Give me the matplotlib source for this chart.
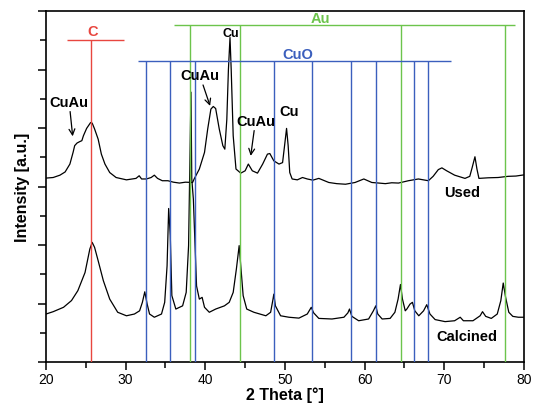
import numpy as np
import matplotlib
matplotlib.use('Agg')
import matplotlib.pyplot as plt
from matplotlib.ticker import MultipleLocator, NullFormatter

plt.rcParams['font.family'] = ['Liberation Sans', 'DejaVu Sans']

# traced patterns (2 theta, intensity in arbitrary units of the panel)
used_x = [20.0, 20.9, 21.75, 22.4, 23.0, 23.4, 23.6, 23.9, 24.25, 24.5, 24.7, 25.1, 25.6, 25.8,
          26.1, 26.55, 26.95, 27.4, 28.0, 28.8, 30.1, 31.3, 31.7, 32.0, 32.6, 33.2, 33.6, 34.0,
          34.6, 35.3, 36.0, 36.75, 37.5, 38.4, 38.6, 39.25, 39.9, 40.3, 40.7, 41.0, 41.3, 41.75,
          42.2, 42.45, 42.7, 42.9, 43.1, 43.25, 43.5, 43.85, 44.45, 45.0, 45.4, 45.9, 46.55,
          47.2, 47.8, 48.1, 48.6, 49.25, 49.7, 49.95, 50.2, 50.4, 50.6, 50.9, 51.55, 52.2, 52.8,
          53.5, 54.25, 55.5, 56.5, 57.6, 58.8, 59.9, 60.9, 61.8, 62.6, 63.4, 64.25, 65.5, 66.75,
          68.0, 68.6, 69.25, 69.7, 70.3, 71.3, 72.6, 73.2, 73.5, 73.85, 74.1, 74.35, 75.5, 76.75,
          78.0, 79.0, 80.0]
used_y = [6.29, 6.31, 6.39, 6.5, 6.77, 7.17, 7.4, 7.49, 7.54, 7.57, 7.74, 7.99, 8.19, 8.17,
          7.97, 7.62, 7.11, 6.77, 6.48, 6.31, 6.23, 6.28, 6.37, 6.26, 6.26, 6.31, 6.39, 6.28,
          6.2, 6.2, 6.15, 6.12, 6.15, 6.14, 6.26, 6.6, 7.17, 7.97, 8.65, 8.74, 8.67, 7.97,
          7.4, 7.28, 8.3, 10.0, 11.1, 10.0, 7.74, 6.6, 6.46, 6.54, 6.77, 6.54, 6.46,
          6.77, 7.11, 7.13, 6.88, 6.77, 6.82, 7.4, 7.99, 7.4, 6.48, 6.26, 6.23, 6.31, 6.26,
          6.22, 6.28, 6.14, 6.1, 6.08, 6.14, 6.26, 6.14, 6.12, 6.1, 6.13, 6.12, 6.2, 6.26,
          6.2, 6.35, 6.58, 6.64, 6.54, 6.39, 6.28, 6.35, 6.65, 7.02, 6.6, 6.28, 6.3, 6.31,
          6.35, 6.36, 6.4]

calc_x = [20.0, 20.9, 22.2, 23.2, 24.0, 24.9, 25.5, 25.8, 26.1, 26.55, 27.2, 28.0, 29.0, 30.1,
          31.1, 31.75, 32.1, 32.4, 32.7, 33.0, 33.6, 34.5, 34.9, 35.2, 35.4, 35.6, 35.8, 36.3,
          37.15, 37.6, 37.9, 38.2, 38.3, 38.5, 38.9, 39.25, 39.6, 39.9, 40.5, 41.3, 42.4, 43.0,
          43.5, 43.9, 44.25, 44.45, 44.75, 45.2, 46.1, 47.6, 48.2, 48.5, 48.6, 48.8, 49.45, 50.5,
          51.75, 52.8, 53.3, 53.6, 54.25, 55.9, 57.4, 57.9, 58.1, 58.4, 59.25, 60.5, 61.1, 61.4,
          61.65, 62.2, 63.2, 63.8, 64.2, 64.5, 64.75, 65.1, 65.3, 65.7, 66.0, 66.3, 66.8, 67.4,
          67.8, 68.2, 68.85, 70.1, 71.3, 72.0, 72.4, 73.6, 74.5, 74.8, 75.2, 75.9, 76.65, 77.1,
          77.4, 77.7, 78.1, 78.6, 79.3, 80.0]
calc_y = [1.64, 1.72, 1.87, 2.1, 2.44, 3.06, 3.86, 4.09, 3.92, 3.46, 2.78, 2.15, 1.7, 1.58,
          1.64, 1.75, 2.04, 2.4, 1.98, 1.64, 1.53, 1.64, 2.04, 3.29, 5.25, 4.32, 2.27, 1.81,
          1.92, 2.38, 3.98, 9.23, 6.26, 5.57, 2.6, 2.15, 2.21, 1.87, 1.7, 1.81, 1.92, 2.04,
          2.38, 3.18, 3.98, 3.29, 2.27, 1.81, 1.7, 1.58, 1.7, 2.15, 2.32, 1.92, 1.58, 1.53,
          1.5, 1.64, 1.87, 1.68, 1.49, 1.47, 1.53, 1.68, 1.81, 1.56, 1.41, 1.47, 1.75, 1.92,
          1.64, 1.47, 1.49, 1.7, 2.15, 2.65, 2.15, 1.75, 1.81, 1.98, 2.04, 1.75, 1.58, 1.75,
          1.96, 1.64, 1.45, 1.38, 1.41, 1.53, 1.41, 1.41, 1.58, 1.72, 1.56, 1.49, 1.64, 2.1,
          2.7, 2.21, 1.7, 1.56, 1.53, 1.53]

# reference reflections
c_pos = [25.7]
au_pos = [38.1, 44.3, 64.6, 77.6]
cuo_pos = [32.5, 35.55, 38.7, 48.6, 53.4, 58.25, 61.4, 66.15, 68.0]

c_col, au_col, cuo_col = '#e8463f', '#6cc44c', '#3b5fbd'

fig = plt.figure(figsize=(5.33, 4.06), dpi=100)
ax = fig.add_axes([0.0863, 0.106, 0.8967, 0.864])

ax.plot(used_x, used_y, color='k', lw=0.9, zorder=2)
ax.plot(calc_x, calc_y, color='k', lw=0.9, zorder=2)

# marker bars
ax.hlines(11.02, 22.67, 29.75, color=c_col, lw=1, zorder=3)
ax.vlines(c_pos, 0, 11.02, color=c_col, lw=1, zorder=3)
ax.text(25.85, 11.33, 'C', color=c_col, fontsize=10.5, fontweight='bold', ha='center', va='center')

ax.hlines(11.52, 36.1, 78.9, color=au_col, lw=1, zorder=3)
ax.vlines(au_pos, 0, 11.52, color=au_col, lw=1, zorder=3)
ax.text(54.5, 11.76, 'Au', color=au_col, fontsize=10.5, fontweight='bold', ha='center', va='center')

ax.hlines(10.3, 31.6, 70.9, color=cuo_col, lw=1, zorder=3)
ax.vlines(cuo_pos, 0, 10.3, color=cuo_col, lw=1, zorder=3)
ax.text(51.6, 10.55, 'CuO', color=cuo_col, fontsize=10.5, fontweight='bold', ha='center', va='center')

# phase annotations
ann_kw = dict(fontsize=10.5, fontweight='bold', ha='center', va='center',
              arrowprops=dict(arrowstyle='->', color='k', lw=0.9, shrinkA=0, shrinkB=0))
ax.annotate('CuAu', xy=(23.35, 7.72), xytext=(22.9, 8.9), **ann_kw)
ax.annotate('CuAu', xy=(40.6, 8.76), xytext=(39.3, 9.81), **ann_kw)
ax.annotate('CuAu', xy=(45.7, 7.05), xytext=(46.3, 8.25), **ann_kw)
ax.text(43.2, 11.25, 'Cu', fontsize=9, fontweight='bold', ha='center', va='center')
ax.text(50.5, 8.58, 'Cu', fontsize=10.5, fontweight='bold', ha='center', va='center')
ax.text(72.2, 5.8, 'Used', fontsize=10.5, fontweight='bold', ha='center', va='center')
ax.text(72.8, 0.9, 'Calcined', fontsize=10.5, fontweight='bold', ha='center', va='center')

ax.set_xlim(20, 80)
ax.set_ylim(0, 12)
ax.xaxis.set_major_locator(MultipleLocator(10))
ax.xaxis.set_minor_locator(MultipleLocator(5))
ax.yaxis.set_major_locator(MultipleLocator(2))
ax.yaxis.set_minor_locator(MultipleLocator(1))
ax.yaxis.set_major_formatter(NullFormatter())
ax.tick_params(which='major', direction='out', length=5.5, width=1.1, labelsize=10, pad=2)
ax.tick_params(which='minor', direction='out', length=4, width=1.1)
for sp in ax.spines.values():
    sp.set_linewidth(1.2)

ax.set_xlabel('2 Theta [°]', fontsize=11.5, fontweight='bold', labelpad=0)
ax.set_ylabel('Intensity [a.u.]', fontsize=11.5, fontweight='bold', labelpad=4)

fig.savefig('out.png', dpi=100)
